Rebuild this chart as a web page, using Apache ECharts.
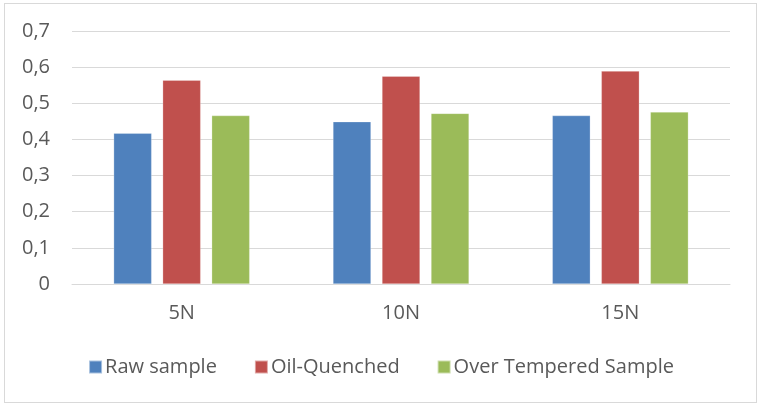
<!DOCTYPE html>
<html><head><meta charset="utf-8">
<script src="https://cdn.jsdelivr.net/npm/echarts@6/dist/echarts.min.js"></script>
<style>html,body{margin:0;padding:0;background:#fff}#c{width:762px;height:407px}
#frame{position:absolute;left:4px;top:3px;width:753px;height:400px;border:1px solid #d9d9d9;box-sizing:border-box;pointer-events:none}</style>
</head><body><div id="c"></div><div id="frame"></div>
<script>
const categories = ['5N', '10N', '15N'];
const rawSample = [0.417, 0.449, 0.466];
const oilQuenched = [0.564, 0.575, 0.589];
const overTempered = [0.466, 0.472, 0.476];
const seriesNames = ['Raw sample', 'Oil-Quenched', 'Over Tempered Sample'];
const colors = ['#4f81bd', '#c0504d', '#9bbb59'];
const FONT = 'Open Sans';
const chart = echarts.init(document.getElementById('c'));
const mk = (name, data, color) => ({
  name, type: 'bar', data, barWidth: 38, barGap: '29%',
  itemStyle: { color, borderColor: 'rgba(255,255,255,0.5)', borderWidth: 0.5 }
});
chart.setOption({
  animation: false,
  textStyle: { fontFamily: FONT },
  grid: { left: 72, right: 32, top: 31, bottom: 123 },
  legend: {
    bottom: 25, left: 'center', itemWidth: 13, itemHeight: 13, itemGap: 37,
    icon: 'rect', textStyle: { fontFamily: FONT, fontSize: 20, color: '#595959', padding: [0, 0, 0, -2] },
    data: seriesNames
  },
  xAxis: {
    type: 'category', data: categories,
    axisLine: { lineStyle: { color: '#d9d9d9', width: 1 } },
    axisTick: { show: false },
    axisLabel: { fontFamily: FONT, fontSize: 20, color: '#595959', margin: 19 }
  },
  yAxis: {
    type: 'value', min: 0, max: 0.7, interval: 0.1,
    axisLine: { show: false }, axisTick: { show: false },
    splitLine: { lineStyle: { color: '#d9d9d9', width: 1 } },
    axisLabel: { fontFamily: FONT, fontSize: 20, color: '#595959', margin: 22,
      formatter: v => v === 0 ? '0' : v.toFixed(1).replace('.', ',') }
  },
  series: [mk(seriesNames[0], rawSample, colors[0]), mk(seriesNames[1], oilQuenched, colors[1]), mk(seriesNames[2], overTempered, colors[2])]
});
</script></body></html>
